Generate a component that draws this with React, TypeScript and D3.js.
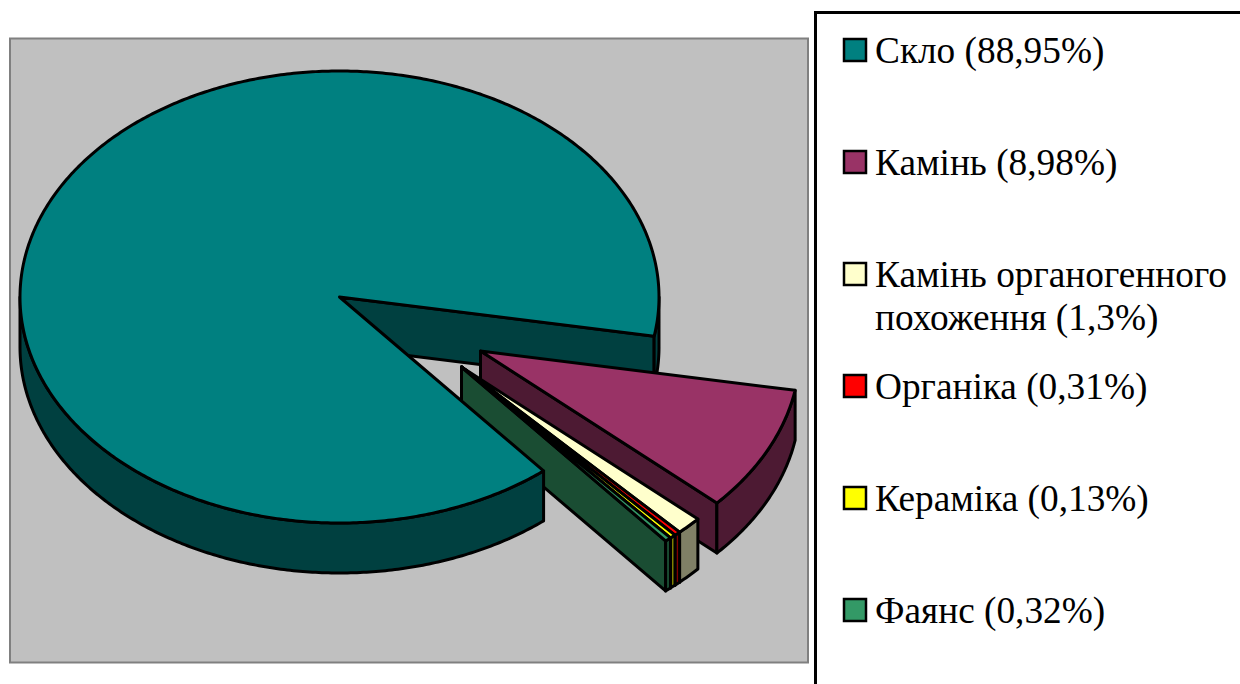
import React from "react";
import * as d3 from "d3";

const categories = ["Скло", "Камінь", "Камінь органогенного похоження", "Органіка", "Кераміка", "Фаянс"];
const values = [88.95, 8.98, 1.3, 0.31, 0.13, 0.32];
const legendLines = [
  ["Скло (88,95%)"],
  ["Камінь (8,98%)"],
  ["Камінь органогенного", "похоження (1,3%)"],
  ["Органіка (0,31%)"],
  ["Кераміка (0,13%)"],
  ["Фаянс (0,32%)"],
];
const topColors = ["#008080", "#993366", "#FFFFCC", "#FF0000", "#FFFF00", "#339966"];
const wallColors = ["#004040", "#4D1A33", "#808066", "#800000", "#808000", "#1A4D33"];

const W = 1240;
const H = 684;
const CX = 339.5;
const CY = 297;
const RX = 319.5;
const RY = 226;
const DEPTH = 50;
const START_DEG = 140.3; // clock angle of the first slice's start
const MIN_SHARE = 0.3; // the tiniest slice is drawn at least this wide, as the reference does
const EXPLODE: [number, number][] = [
  [0, 0],
  [141, 54],
  [122, 70],
  [122, 70],
  [122, 70],
  [122, 70],
];

type P = [number, number];
const lineGen = d3.line<P>();
const pieGen = d3
  .pie<number>()
  .sort(null)
  .value((v) => Math.max(v, MIN_SHARE))
  .startAngle((START_DEG * Math.PI) / 180)
  .endAngle((START_DEG * Math.PI) / 180 + 2 * Math.PI);
const arcs = pieGen(values);

const proj = (a: number, r = 1): P => [RX * r * Math.sin(a), -RY * r * Math.cos(a)];

function sample(a0: number, a1: number): number[] {
  const n = Math.max(2, Math.ceil(Math.abs(a1 - a0) / 0.01));
  return d3.range(n + 1).map((i) => a0 + ((a1 - a0) * i) / n);
}

function shift(pts: P[], dx: number, dy: number): P[] {
  return pts.map(([x, y]) => [x + dx, y + dy] as P);
}

function topFace(i: number) {
  const [ox, oy] = EXPLODE[i];
  const a = arcs[i];
  const rim = sample(a.startAngle, a.endAngle).map((t) => proj(t));
  return lineGen(shift([[0, 0], ...rim], CX + ox, CY + oy)) + "Z";
}

function outerWall(i: number, a0: number, a1: number) {
  const [ox, oy] = EXPLODE[i];
  const rim = sample(a0, a1).map((t) => proj(t));
  const top = shift(rim, CX + ox, CY + oy);
  const bottom = shift(rim, CX + ox, CY + oy + DEPTH).reverse();
  return lineGen([...top, ...bottom]) + "Z";
}

function cutWall(i: number, a: number) {
  const [ox, oy] = EXPLODE[i];
  const e = proj(a);
  const c = CX + ox;
  const d = CY + oy;
  return (
    lineGen([
      [c, d],
      [c + e[0], d + e[1]],
      [c + e[0], d + e[1] + DEPTH],
      [c, d + DEPTH],
    ]) + "Z"
  );
}

const STROKE = "#000";
const SW = 3;
const QUARTER = Math.PI / 2;
const TAU = 2 * Math.PI;

function Slice({ i }: { i: number }) {
  const a = arcs[i];
  // Slices after the first have wrapped past a full turn; bring their rim back to the front half.
  const wrap = i === 0 ? 0 : TAU;
  const s = Math.max(a.startAngle - wrap, QUARTER);
  const e = Math.min(a.endAngle - wrap, 3 * QUARTER);
  return (
    <g stroke={STROKE} strokeWidth={SW} strokeLinejoin="round">
      {i !== 0 && <path d={cutWall(i, a.endAngle)} fill={wallColors[i]} />}
      <path d={outerWall(i, s, e)} fill={wallColors[i]} />
      <path d={topFace(i)} fill={topColors[i]} />
    </g>
  );
}

const legendY = d3.scaleLinear().domain([0, 5]).range([50, 610]);
const FONT = "'Liberation Serif', 'Times New Roman', serif";

export default function App() {
  return (
    <svg
      width={W}
      height={H}
      viewBox={`0 0 ${W} ${H}`}
      style={{ position: "absolute", left: 0, top: 0, display: "block", background: "#fff" }}
    >
      <rect x={10} y={38.5} width={798} height={624} fill="#C0C0C0" stroke="#808080" strokeWidth={2} />

      {/* inner cut face and right-hand rim sliver of the main slice, behind the exploded slices */}
      <g stroke={STROKE} strokeWidth={SW} strokeLinejoin="round" fill={wallColors[0]}>
        <path d={cutWall(0, arcs[0].endAngle)} />
        <path d={outerWall(0, 5 * QUARTER, arcs[0].endAngle)} />
      </g>

      <Slice i={1} />
      <Slice i={2} />
      <Slice i={3} />
      <Slice i={4} />
      <Slice i={5} />
      <Slice i={0} />

      <rect x={815.5} y={12.5} width={W} height={H} fill="#fff" stroke="#000" strokeWidth={3} />
      {categories.map((c, i) => {
        const y = legendY(i);
        return (
          <g key={c}>
            <rect x={844} y={y - 11} width={22} height={22} fill={topColors[i]} stroke="#000" strokeWidth={2.5} />
            <text x={875} y={y + 13} fontFamily={FONT} fontSize={37.3} fill="#000">
              {legendLines[i].map((l, k) => (
                <tspan key={k} x={875} dy={k === 0 ? 0 : 43}>
                  {l}
                </tspan>
              ))}
            </text>
          </g>
        );
      })}
    </svg>
  );
}
